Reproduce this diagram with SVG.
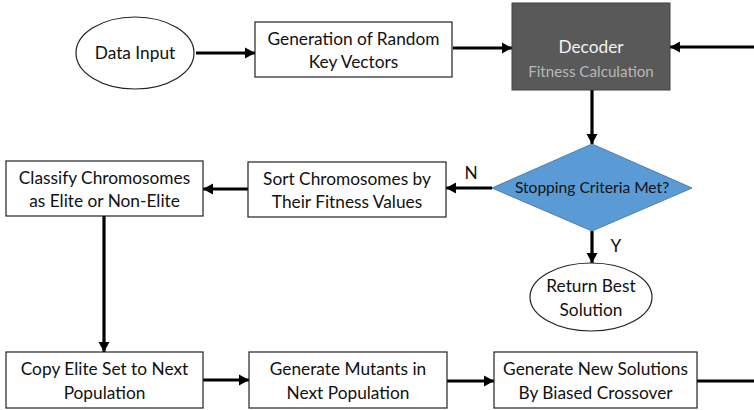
<svg xmlns="http://www.w3.org/2000/svg" width="754" height="410" viewBox="0 0 754 410">
<style>
.box{fill:#fff;stroke:#222;stroke-width:1.2}
.t{font-family:Lato,"Liberation Sans",sans-serif;font-size:17.3px;fill:#111;text-anchor:middle}
.c{stroke:#000;stroke-width:3.2;fill:none}
</style>
<defs>
<marker id="ah" markerUnits="userSpaceOnUse" markerWidth="12" markerHeight="12" refX="10" refY="6" orient="auto">
<path d="M0,0.5 L10,6 L0,11.5 Z" fill="#000"/>
</marker>
</defs>
<rect width="754" height="410" fill="#fff"/>
<g id="connectors">
<line class="c" x1="196" y1="53" x2="255" y2="53" marker-end="url(#ah)"/>
<line class="c" x1="453" y1="48" x2="512" y2="48" marker-end="url(#ah)"/>
<line class="c" x1="754" y1="47" x2="670" y2="47" marker-end="url(#ah)"/>
<line class="c" x1="592" y1="90" x2="592" y2="144" marker-end="url(#ah)"/>
<line class="c" x1="492" y1="188" x2="446" y2="188" marker-end="url(#ah)"/>
<line class="c" x1="248" y1="189" x2="203" y2="189" marker-end="url(#ah)"/>
<line class="c" x1="104" y1="216" x2="104" y2="352" marker-end="url(#ah)"/>
<line class="c" x1="203" y1="380" x2="249" y2="380" marker-end="url(#ah)"/>
<line class="c" x1="447" y1="381" x2="494" y2="381" marker-end="url(#ah)"/>
<line class="c" x1="697" y1="381" x2="754" y2="381"/>
<line class="c" x1="592" y1="231" x2="592" y2="263" marker-end="url(#ah)"/>
<text class="t" x="471" y="179">N</text>
<text class="t" x="616" y="252">Y</text>
</g>
<g id="data-input">
<ellipse class="box" cx="135" cy="53" rx="59" ry="36"/>
<text class="t" x="135" y="59">Data Input</text>
</g>
<g id="gen-random">
<rect class="box" x="255" y="22" width="197" height="55"/>
<text class="t" x="353.5" y="45">Generation of Random</text>
<text class="t" x="353.5" y="68">Key Vectors</text>
</g>
<g id="decoder">
<rect x="512" y="3" width="158" height="87" fill="#595959" stroke="#404040" stroke-width="1"/>
<text class="t" x="591" y="53" style="fill:#f2f2f2">Decoder</text>
<text class="t" x="591" y="77" style="fill:#b8b8b8;font-size:15.2px">Fitness Calculation</text>
</g>
<g id="stopping">
<polygon points="592,144 692,188 592,231 492,188" fill="#5b9bd5" stroke="#4a7fb0" stroke-width="1"/>
<text class="t" x="592" y="193" style="font-size:15.6px">Stopping Criteria Met?</text>
</g>
<g id="return-best">
<ellipse class="box" cx="591" cy="297" rx="61" ry="34"/>
<text class="t" x="591" y="292">Return Best</text>
<text class="t" x="591" y="316">Solution</text>
</g>
<g id="sort">
<rect class="box" x="248" y="162" width="198" height="55"/>
<text class="t" x="347" y="185">Sort Chromosomes by</text>
<text class="t" x="347" y="208">Their Fitness Values</text>
</g>
<g id="classify">
<rect class="box" x="6" y="161" width="197" height="55"/>
<text class="t" x="104.5" y="184">Classify Chromosomes</text>
<text class="t" x="104.5" y="207">as Elite or Non-Elite</text>
</g>
<g id="copy-elite">
<rect class="box" x="6" y="352" width="197" height="56"/>
<text class="t" x="104.5" y="375">Copy Elite Set to Next</text>
<text class="t" x="104.5" y="399">Population</text>
</g>
<g id="mutants">
<rect class="box" x="249" y="352" width="198" height="56"/>
<text class="t" x="348" y="375">Generate Mutants in</text>
<text class="t" x="348" y="399">Next Population</text>
</g>
<g id="new-solutions">
<rect class="box" x="494" y="352" width="203" height="56"/>
<text class="t" x="595.5" y="375">Generate New Solutions</text>
<text class="t" x="595.5" y="399">By Biased Crossover</text>
</g>
</svg>
